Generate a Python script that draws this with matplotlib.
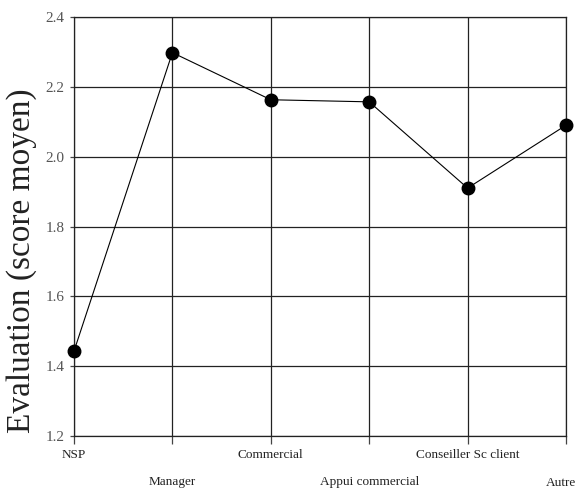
import matplotlib
matplotlib.use("Agg")
import matplotlib.pyplot as plt

categories = ["NSP", "Manager", "Commercial", "Appui commercial", "Conseiller Sc client", "Autre"]
scores = [1.443, 2.298, 2.163, 2.157, 1.910, 2.090]
yticks = [1.2, 1.4, 1.6, 1.8, 2.0, 2.2, 2.4]
ytick_labels = ["1.2", "1.4", "1.6", "1.8", "2.0", "2.2", "2.4"]

plt.rcParams['font.family'] = ['Liberation Serif', 'DejaVu Serif']

fig = plt.figure(figsize=(5.79, 4.92), dpi=100)
ax = fig.add_axes([74/579, 1-436/492, (566-74)/579, (436-17)/492])

x = list(range(len(categories)))
ax.plot(x, scores, color='black', lw=0.8, marker='o', markersize=9,
        markerfacecolor='black', markeredgecolor='black', clip_on=False, zorder=5)

ax.set_xlim(0, len(categories)-1)
ax.set_ylim(1.2, 2.4)
ax.set_yticks(yticks)
ax.set_yticklabels(ytick_labels)
ax.set_xticks(x)
labels = [c if i % 2 == 0 else "\n" + c for i, c in enumerate(categories)]
labels[-1] = ""  # last label drawn separately so it stays inside the figure
ax.set_xticklabels(labels)
for lab in ax.get_xticklabels():
    lab.set_linespacing(2.7)

ax.annotate(categories[-1], xy=(x[-1], 0), xycoords=('data', 'axes fraction'),
            xytext=(7.6, -33.5), textcoords='offset points', ha='right', va='center',
            fontsize=9.5, color='#222222', annotation_clip=False)

ax.grid(True, color='#222222', lw=0.9)
for s in ax.spines.values():
    s.set_color('#222222')
    s.set_linewidth(0.9)

ax.tick_params(axis='x', length=6, width=0.9, color='#444444', pad=3,
               labelsize=9.5, labelcolor='#222222')
ax.tick_params(axis='y', length=3, width=0.9, color='#444444', pad=4,
               labelsize=11, labelcolor='#555555')

fig.text(22/579, 1-261/492, "Evaluation (score moyen)", rotation=90,
         ha='center', va='center', fontsize=24, color='#222222')

fig.savefig("out.png", dpi=100)
